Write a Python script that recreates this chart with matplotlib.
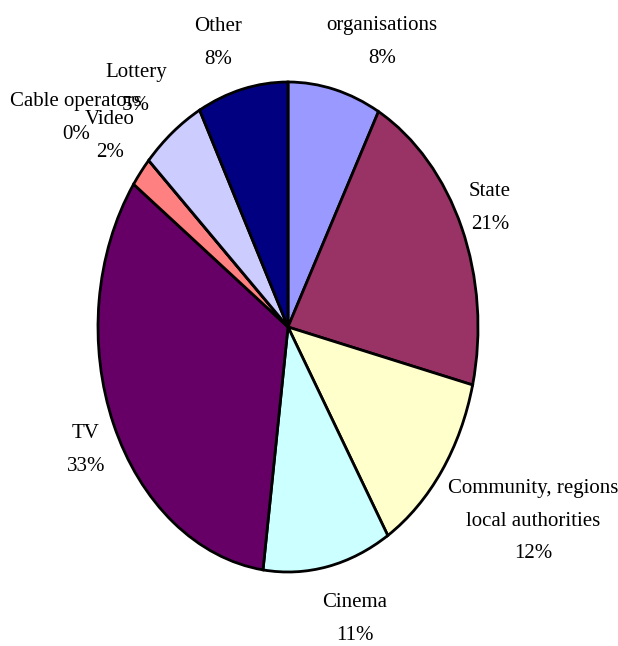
import matplotlib
matplotlib.use("Agg")
import matplotlib.pyplot as plt

# funding sources, clockwise from the top
labels = ["organisations", "State", "Community, regions\nlocal authorities", "Cinema",
          "TV", "Video", "Cable operators", "Lottery", "Other"]
shares = [7.9, 20.9, 12.4, 10.9, 32.8, 2.0, 0.0, 5.4, 7.7]
pct_text = ["8%", "21%", "12%", "11%", "33%", "2%", "0%", "5%", "8%"]
colors = ["#9999FF", "#993366", "#FFFFCC", "#CCFFFF", "#660066",
          "#FF8080", "#0066CC", "#CCCCFF", "#000080"]

# label centres in pixels (from top-left), Excel-style placement
label_pos = [(382, 42), (490, 208), (533, 521), (355, 619), (86, 450),
             (110, 136), (76, 118), (136, 89), (218, 43)]

W, H = 618, 646
fig = plt.figure(figsize=(W / 100, H / 100), dpi=100)
ax = fig.add_axes([0, 0, 1, 1])

ax.pie(shares, colors=colors, startangle=90, counterclock=False,
       wedgeprops=dict(edgecolor="black", linewidth=2))

# the original pie is an ellipse: centre (288, 327) px, radii 190 x 245 px
cx, cy, rx, ry = 288, 327, 190, 245
ax.set_aspect("auto")
ax.set_xlim(-cx / rx, (W - cx) / rx)
ax.set_ylim(-(H - cy) / ry, cy / ry)
ax.axis("off")

font = dict(family=["Liberation Serif", "DejaVu Serif"], fontsize=15, color="black")
for lab, pct, (px, py) in zip(labels, pct_text, label_pos):
    fig.text(px / W, 1 - py / H, lab + "\n" + pct, ha="center", va="center",
             multialignment="center", linespacing=2.0, **font)

fig.savefig("out.png", dpi=100)
